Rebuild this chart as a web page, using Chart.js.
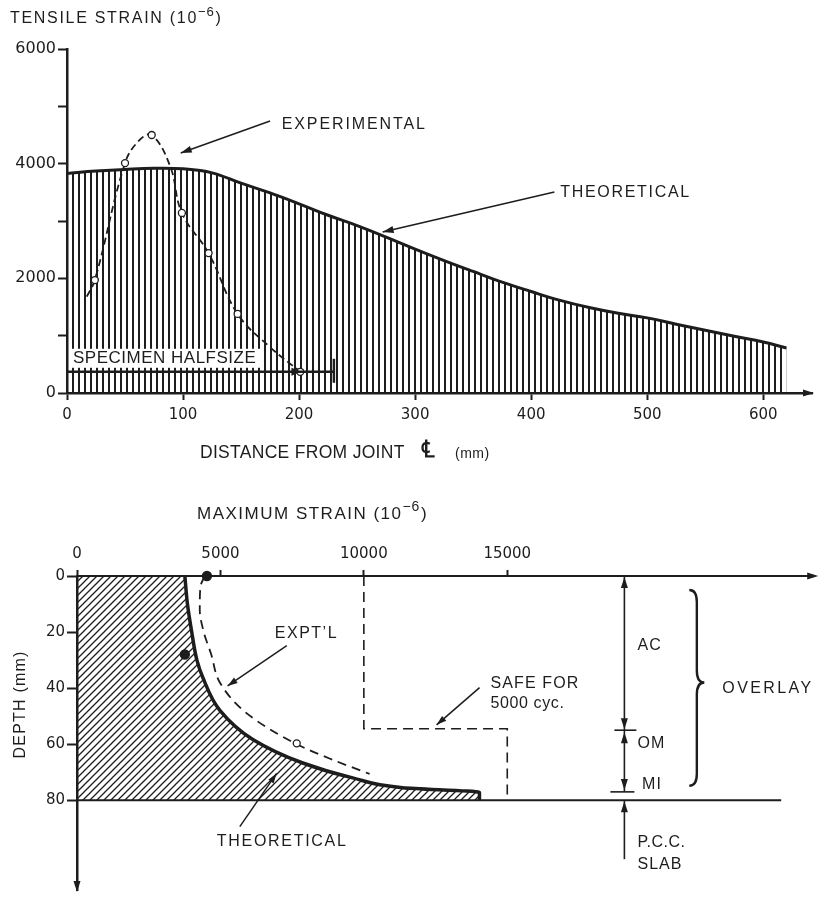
<!DOCTYPE html>
<html>
<head>
<meta charset="utf-8">
<script src="https://cdn.jsdelivr.net/npm/chart.js@4.4.1/dist/chart.umd.min.js"></script>
<style>
  body { margin: 0; background: #fff; width: 820px; height: 901px; overflow: hidden; }
  canvas { display: block; }
</style>
</head>
<body>
<canvas id="top" width="820" height="470"></canvas>
<canvas id="bottom" width="820" height="431"></canvas>
<script>
// ---- upper graph: tensile strain along the slab ----
const distanceTicks = [0, 100, 200, 300, 400, 500, 600];
const tensileTicks = [0, 1000, 2000, 3000, 4000, 5000, 6000];
const tensileLabels = [0, 2000, 4000, 6000];

const distance = [0, 25, 50, 75, 100, 125, 150, 175, 200, 225, 250, 275, 300, 325, 350, 375, 400, 425, 450, 475, 500, 525, 550, 575, 600, 620];
const theoStrain = [3830, 3870, 3900, 3920, 3910, 3840, 3660, 3490, 3300, 3100, 2920, 2720, 2510, 2310, 2120, 1935, 1770, 1615, 1490, 1390, 1310, 1200, 1095, 990, 890, 785];

// dashed experimental curve and the measured points on it
const expLineDistance = [17, 24, 50, 62, 73, 89, 99, 122, 147, 175, 201];
const expLineStrain = [1680, 1970, 4010, 4400, 4500, 3950, 3140, 2440, 1380, 800, 370];
const expDistance = [24, 50, 73, 99, 122, 147, 201];
const expStrain = [1970, 4010, 4500, 3140, 2440, 1380, 370];

const specimenHalf = 230;   // mm
const specimenLevel = 370;

// ---- lower graph: maximum strain through the overlay depth ----
const strainTicks = [0, 5000, 10000, 15000];
const depthTicks = [0, 20, 40, 60, 80];

const theoDepth = [0, 10, 20, 30, 36.3, 47.9, 58.3, 66.7, 72, 75.5, 77.2];
const theoMaxStrain = [3760, 3850, 4000, 4180, 4390, 4980, 6130, 7870, 9610, 11350, 14030];

const exptDepth = [0, 4, 12, 20, 28, 38, 49, 60, 65.5, 70.6];
const exptMaxStrain = [4450, 4300, 4280, 4420, 4680, 4980, 5920, 7660, 8900, 10200];
const exptMarkDepth = [0, 28, 59.7];
const exptMarkStrain = [4530, 3760, 7660];

const safeDepth = [0, 54.5, 54.5, 80];
const safeStrain = [10000, 10000, 15000, 15000];

const layerDepths = [0, 55, 77, 80];   // AC / OM / MI, then P.C.C. slab

const ink = '#1d1d1d';
const sans = '"Liberation Sans", Arial, sans-serif';
const tickFont = { family: '"DejaVu Sans", sans-serif', size: 15 };

function pts(xs, ys) { return xs.map((v, i) => ({ x: v, y: ys[i] })); }

function hatch(w, h, draw) {
  const c = document.createElement('canvas');
  c.width = w; c.height = h;
  const g = c.getContext('2d');
  g.fillStyle = ink; g.strokeStyle = ink;
  draw(g);
  return g.createPattern(c, 'repeat');
}
const vLines = hatch(6, 6, g => g.fillRect(0, 0, 2, 6));
const dLines = hatch(7, 7, g => {
  g.lineWidth = 1.3;
  g.beginPath();
  g.moveTo(-1, 8); g.lineTo(8, -1);
  g.moveTo(-1, 1); g.lineTo(1, -1);
  g.moveTo(6, 8); g.lineTo(8, 6);
  g.stroke();
});

function label(ctx, s, x, y, size, ls = 0, align = 'left', weight = '') {
  ctx.font = `${weight} ${size}px ${sans}`;
  ctx.letterSpacing = ls + 'px';
  ctx.textAlign = align;
  ctx.textBaseline = 'middle';
  ctx.fillText(s, x, y);
  return ctx.measureText(s).width;
}
function supLabel(ctx, main, sup, tail, x, y, size, ls) {
  let w = label(ctx, main, x, y, size, ls);
  w += label(ctx, sup, x + w, y - size * 0.4, size * 0.82, ls * 0.5);
  label(ctx, tail, x + w + 1, y, size, ls);
}
function seg(ctx, x1, y1, x2, y2) {
  ctx.beginPath(); ctx.moveTo(x1, y1); ctx.lineTo(x2, y2); ctx.stroke();
}
function head(ctx, x1, y1, x2, y2, len = 9, half = 3.5) {
  const a = Math.atan2(y2 - y1, x2 - x1), c = Math.cos(a), s = Math.sin(a);
  ctx.beginPath();
  ctx.moveTo(x2, y2);
  ctx.lineTo(x2 - len * c + half * s, y2 - len * s - half * c);
  ctx.lineTo(x2 - len * c - half * s, y2 - len * s + half * c);
  ctx.closePath(); ctx.fill();
}
function arrow(ctx, x1, y1, x2, y2, len, half) {
  seg(ctx, x1, y1, x2, y2);
  head(ctx, x1, y1, x2, y2, len, half);
}

const topNotes = {
  id: 'topNotes',
  afterDraw(chart) {
    const { ctx, scales: { x, y }, chartArea: a } = chart;
    const X = v => x.getPixelForValue(v), Y = v => y.getPixelForValue(v);
    ctx.save();
    ctx.fillStyle = ink; ctx.strokeStyle = ink;

    supLabel(ctx, 'TENSILE STRAIN (10', '\u22126', ')', 10, 19, 16, 1.7);
    head(ctx, a.right - 10, a.bottom, a.right + 2, a.bottom, 11, 3.5);

    label(ctx, 'DISTANCE FROM JOINT', 200, 453, 17.5, 0.3);
    label(ctx, '\u2104', 421, 450, 24, 0, 'left', 'bold');
    label(ctx, '(mm)', 455, 454, 14, 0.5);

    // specimen halfsize marker
    const ys = Y(specimenLevel);
    ctx.font = `17px ${sans}`; ctx.letterSpacing = '0.5px';
    const tw = ctx.measureText('SPECIMEN HALFSIZE').width;
    ctx.fillStyle = '#fff';
    ctx.fillRect(X(0) + 4, ys - 23, tw + 6, 19);
    ctx.fillStyle = ink;
    label(ctx, 'SPECIMEN HALFSIZE', X(0) + 6, ys - 13, 17, 0.5);
    ctx.lineWidth = 2.5;
    seg(ctx, X(0), ys, X(specimenHalf), ys);
    head(ctx, X(0), ys, X(202), ys, 10, 4);
    seg(ctx, X(specimenHalf), ys - 13, X(specimenHalf), ys + 11);

    // callouts
    ctx.lineWidth = 1.5;
    label(ctx, 'EXPERIMENTAL', X(185), Y(4680), 16, 1.9);
    arrow(ctx, X(175), Y(4745), X(98), Y(4186), 11, 3.5);
    label(ctx, 'THEORETICAL', X(425), Y(3489), 16, 1.7);
    arrow(ctx, X(420), Y(3506), X(272), Y(2808), 11, 3.5);
    ctx.restore();
  }
};

new Chart(document.getElementById('top'), {
  type: 'line',
  data: {
    datasets: [
      {
        label: 'Experimental points',
        data: pts(expDistance, expStrain),
        showLine: false,
        pointRadius: 3.5,
        pointBackgroundColor: '#fff',
        pointBorderColor: ink,
        pointBorderWidth: 1.3,
        order: -1
      },
      {
        label: 'Experimental',
        data: pts(expLineDistance, expLineStrain),
        borderColor: ink,
        borderWidth: 1.8,
        borderDash: [7, 4],
        pointRadius: 0,
        tension: 0.4,
        fill: false,
        order: 0
      },
      {
        label: 'Theoretical',
        data: pts(distance, theoStrain),
        borderColor: ink,
        borderWidth: 3,
        backgroundColor: vLines,
        fill: 'origin',
        pointRadius: 0,
        tension: 0.4,
        order: 1
      }
    ]
  },
  options: {
    responsive: false,
    animation: false,
    devicePixelRatio: 1,
    layout: { padding: { top: 49, right: 8, left: 0, bottom: 0 } },
    plugins: { legend: { display: false }, tooltip: { enabled: false } },
    scales: {
      x: {
        type: 'linear', min: 0, max: 642,
        afterBuildTicks: s => { s.ticks = distanceTicks.map(v => ({ value: v })); },
        afterFit: s => { s.height = 77; },
        grid: { drawOnChartArea: false, tickLength: 7, tickColor: ink, tickWidth: 2 },
        border: { color: ink, width: 2.5 },
        ticks: { color: ink, font: tickFont, padding: 6, maxRotation: 0, callback: v => String(v) }
      },
      y: {
        type: 'linear', min: 0, max: 6000,
        afterBuildTicks: s => { s.ticks = tensileTicks.map(v => ({ value: v })); },
        afterFit: s => { s.width = 67; },
        grid: { drawOnChartArea: false, tickLength: 9, tickColor: ink, tickWidth: 2 },
        border: { color: ink, width: 2.5 },
        ticks: {
          color: ink, font: { family: tickFont.family, size: 16 }, padding: 2,
          callback: v => tensileLabels.includes(v) ? String(v) : ''
        }
      }
    }
  },
  plugins: [topNotes]
});

const bottomNotes = {
  id: 'bottomNotes',
  afterDraw(chart) {
    const { ctx, scales: { x, y }, chartArea: a } = chart;
    const X = v => x.getPixelForValue(v), Y = v => y.getPixelForValue(v);
    ctx.save();
    ctx.fillStyle = ink; ctx.strokeStyle = ink;

    supLabel(ctx, 'MAXIMUM STRAIN (10', '\u22126', ')', 197, 44, 17, 1.5);

    ctx.save();
    ctx.translate(21, Y(45.8));
    ctx.rotate(-Math.PI / 2);
    label(ctx, 'DEPTH (mm)', 0, 0, 16, 1.2, 'center');
    ctx.restore();

    head(ctx, a.right - 10, a.top, a.right + 4, a.top, 11, 3.5);
    head(ctx, a.left, a.bottom - 10, a.left, a.bottom + 2, 11, 3.5);

    // overlay / slab interface
    ctx.lineWidth = 2;
    seg(ctx, X(0), Y(layerDepths[3]), X(24550), Y(layerDepths[3]));

    // layer dimension arrows
    const xl = X(19083);
    ctx.lineWidth = 1.6;
    seg(ctx, xl, Y(layerDepths[0]), xl, Y(layerDepths[2]));
    head(ctx, xl, Y(20), xl, Y(layerDepths[0]) + 1, 11, 3.5);
    head(ctx, xl, Y(30), xl, Y(layerDepths[1]) - 1, 11, 3.5);
    head(ctx, xl, Y(70), xl, Y(layerDepths[1]) + 2, 11, 3.5);
    head(ctx, xl, Y(60), xl, Y(layerDepths[2]) - 2, 11, 3.5);
    seg(ctx, xl - 10, Y(layerDepths[1]), xl + 12, Y(layerDepths[1]));
    seg(ctx, xl - 14, Y(layerDepths[2]), xl + 10, Y(layerDepths[2]));
    seg(ctx, xl, Y(layerDepths[3]), xl, Y(101));
    head(ctx, xl, Y(95), xl, Y(layerDepths[3]) + 1, 11, 3.5);

    label(ctx, 'AC', X(19540), Y(24.8), 16, 1);
    label(ctx, 'OM', X(19540), Y(59.7), 16, 1);
    label(ctx, 'MI', X(19700), Y(74.3), 16, 1);
    label(ctx, 'P.C.C.', X(19540), Y(95), 16, 0.5);
    label(ctx, 'SLAB', X(19540), Y(102.8), 16, 1);

    // brace for the overlay
    const bx = X(21347), bt = Y(5), bb = Y(74.8), bm = Y(38), bw = 15, r = 12;
    ctx.lineWidth = 2.4;
    ctx.beginPath();
    ctx.moveTo(bx, bt);
    ctx.quadraticCurveTo(bx + bw / 2, bt, bx + bw / 2, bt + r);
    ctx.lineTo(bx + bw / 2, bm - r);
    ctx.quadraticCurveTo(bx + bw / 2, bm, bx + bw, bm);
    ctx.quadraticCurveTo(bx + bw / 2, bm, bx + bw / 2, bm + r);
    ctx.lineTo(bx + bw / 2, bb - r);
    ctx.quadraticCurveTo(bx + bw / 2, bb, bx, bb);
    ctx.stroke();
    label(ctx, 'OVERLAY', X(22496), Y(40.2), 16, 2.4);

    // callouts
    ctx.lineWidth = 1.5;
    label(ctx, 'EXPT\u2019L', X(6895), Y(20.6), 16, 1.5);
    arrow(ctx, X(7313), Y(24.8), X(5250), Y(39.2), 10, 3.2);
    label(ctx, 'THEORETICAL', X(4875), Y(94.7), 16, 1.7);
    arrow(ctx, X(5676), Y(89.4), X(6960), Y(70.4), 10, 3.2);
    label(ctx, 'SAFE FOR', X(14417), Y(38.4), 16, 1.1);
    label(ctx, '5000 cyc.', X(14417), Y(45.6), 16, 0.6);
    arrow(ctx, X(14034), Y(39.8), X(12537), Y(53.1), 10, 3.2);
    ctx.restore();
  }
};

const theoClosed = pts(theoMaxStrain, theoDepth);
theoClosed.push({ x: theoMaxStrain[theoMaxStrain.length - 1], y: layerDepths[3] });

new Chart(document.getElementById('bottom'), {
  type: 'line',
  data: {
    datasets: [
      {
        label: 'Expt marks',
        data: pts(exptMarkStrain, exptMarkDepth),
        showLine: false,
        pointRadius: [4.5, 4.5, 3.5],
        pointBackgroundColor: [ink, ink, '#fff'],
        pointBorderColor: ink,
        pointBorderWidth: 1.3,
        clip: false,
        order: -1
      },
      {
        label: "Expt'l",
        data: pts(exptMaxStrain, exptDepth),
        borderColor: ink,
        borderWidth: 1.8,
        borderDash: [9, 6],
        pointRadius: 0,
        cubicInterpolationMode: 'monotone',
        fill: false,
        order: 0
      },
      {
        label: 'Safe for 5000 cyc.',
        data: pts(safeStrain, safeDepth),
        borderColor: ink,
        borderWidth: 1.6,
        borderDash: [10, 6],
        pointRadius: 0,
        tension: 0,
        fill: false,
        order: 0
      },
      {
        label: 'Theoretical',
        data: theoClosed,
        borderColor: ink,
        borderWidth: 3.5,
        backgroundColor: dLines,
        fill: 'origin',
        pointRadius: 0,
        cubicInterpolationMode: 'monotone',
        order: 1
      }
    ]
  },
  options: {
    indexAxis: 'y',
    responsive: false,
    animation: false,
    devicePixelRatio: 1,
    layout: { padding: { top: 0, right: 5, left: 0, bottom: 4 } },
    plugins: { legend: { display: false }, tooltip: { enabled: false } },
    scales: {
      x: {
        type: 'linear', position: 'top', min: 0, max: 25700,
        afterBuildTicks: s => { s.ticks = strainTicks.map(v => ({ value: v })); },
        afterFit: s => { s.height = 106; },
        grid: { drawOnChartArea: false, tickLength: 6, tickColor: ink, tickWidth: 2 },
        border: { color: ink, width: 2 },
        ticks: { color: ink, font: tickFont, padding: 7, maxRotation: 0, callback: v => String(v) }
      },
      y: {
        type: 'linear', reverse: true, min: 0, max: 112,
        afterBuildTicks: s => { s.ticks = depthTicks.map(v => ({ value: v })); },
        afterFit: s => { s.width = 77; },
        grid: { drawOnChartArea: false, tickLength: 10, tickColor: ink, tickWidth: 2 },
        border: { color: ink, width: 2.5 },
        ticks: { color: ink, font: tickFont, padding: 2, callback: v => String(v) }
      }
    }
  },
  plugins: [bottomNotes]
});
</script>
</body>
</html>
